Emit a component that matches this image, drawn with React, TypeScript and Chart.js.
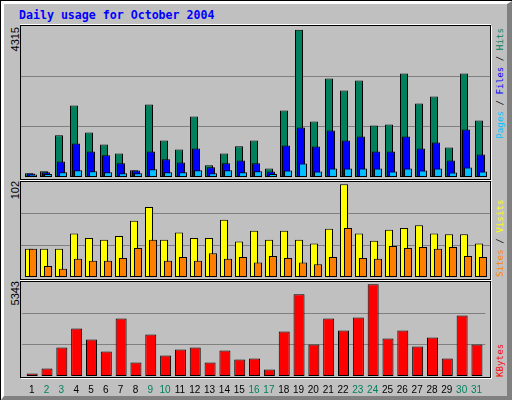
import { useEffect, useRef, type CSSProperties, type ReactNode } from "react"
import { Chart, type ChartConfiguration, registerables } from "chart.js"

Chart.register(...registerables)

const year = 2004
const monthIndex = 9
const monthName = "October"

const days = [1, 2, 3, 4, 5, 6, 7, 8, 9, 10, 11, 12, 13, 14, 15, 16, 17, 18, 19, 20, 21, 22, 23, 24, 25, 26, 27, 28, 29, 30, 31]
const hits = [110, 167, 1221, 2091, 1300, 949, 685, 196, 2121, 1066, 803, 1770, 343, 685, 899, 1066, 246, 1945, 4315, 1623, 2882, 2531, 2824, 1506, 1535, 3029, 2150, 2355, 861, 3029, 1652]
const files = [100, 138, 451, 978, 744, 636, 401, 187, 744, 518, 422, 832, 284, 401, 480, 401, 158, 920, 1447, 890, 1359, 1066, 1183, 744, 744, 1183, 832, 1008, 480, 1389, 656]
const pages = [75, 88, 138, 196, 167, 138, 108, 108, 226, 138, 138, 196, 108, 196, 138, 167, 88, 187, 392, 158, 246, 246, 246, 246, 158, 246, 187, 246, 129, 275, 158]
const visits = [31, 31, 31, 48, 43, 41, 45, 62, 77, 41, 49, 43, 43, 63, 39, 51, 41, 51, 41, 37, 53, 102, 48, 40, 52, 54, 57, 48, 47, 47, 37]
const sites = [31, 12, 9, 20, 18, 18, 21, 32, 41, 18, 22, 18, 26, 20, 22, 16, 23, 21, 16, 14, 22, 54, 21, 20, 34, 32, 33, 31, 33, 23, 22]
const kbytes = [140, 433, 1660, 2771, 2128, 1426, 3356, 783, 2420, 1193, 1543, 1660, 783, 1485, 959, 1017, 374, 2596, 4759, 1836, 3356, 2654, 3414, 5343, 2186, 2654, 1719, 2245, 1017, 3531, 1836]

const C = {
  hits: "#00805C",
  files: "#0000FF",
  pages: "#00C0FF",
  visits: "#FFFF00",
  sites: "#FF8000",
  kbytes: "#FF0000",
  grid: "#808080",
  bg: "#C0C0C0",
}

const PX_PER_DAY = 15
const HEADROOM = 1.025

const isWeekend = (d: number) => {
  const wd = new Date(year, monthIndex, d).getDay()
  return wd === 0 || wd === 6
}

interface BarSet {
  values: number[]
  color: string
  shift: number // px
  width: number // px
  order: number
}

function buildConfig(sets: BarSet[], showDays: boolean): ChartConfiguration {
  const top = Math.max(...sets.flatMap((s) => s.values)) * HEADROOM
  return {
    type: "bar",
    data: {
      datasets: sets.map((s) => ({
        data: s.values.map((v, i) => ({ x: days[i] + s.shift / PX_PER_DAY, y: v })),
        backgroundColor: s.color,
        borderColor: "#000000",
        borderWidth: 1,
        borderSkipped: false,
        barThickness: s.width,
        grouped: false,
        order: s.order,
        inflateAmount: 0,
      })),
    },
    options: {
      responsive: false,
      animation: false,
      devicePixelRatio: 1,
      events: [],
      layout: { padding: 0 },
      plugins: { legend: { display: false }, tooltip: { enabled: false } },
      scales: {
        x: {
          type: "linear",
          min: 1 / 3,
          max: 31.6,
          offset: false,
          display: showDays,
          grid: { display: false, drawTicks: false, offset: false },
          border: { display: false },
          afterBuildTicks: (s) => {
            s.ticks = days.map((d) => ({ value: d }))
          },
          afterFit: (s) => {
            s.height = showDays ? 22 : 0
          },
          ticks: {
            padding: 8,
            autoSkip: false,
            maxRotation: 0,
            font: { family: "Liberation Sans", size: 10 },
            color: (ctx) => (isWeekend(ctx.tick.value) ? C.hits : "#000000"),
            callback: (v) => String(v),
          },
        },
        y: {
          min: 0,
          max: top,
          grid: { color: C.grid, lineWidth: 1, drawTicks: false },
          border: { display: false },
          ticks: { display: false },
          afterBuildTicks: (s) => {
            s.ticks = [1 / 3, 2 / 3].map((f) => ({ value: top * f }))
          },
          afterFit: (s) => {
            s.width = 0
          },
        },
      },
    },
  }
}

function BarPanel({ build, left, top, width, height }: { build: () => ChartConfiguration; left: number; top: number; width: number; height: number }) {
  const ref = useRef<HTMLCanvasElement>(null)
  useEffect(() => {
    if (!ref.current) return
    const chart = new Chart(ref.current, build())
    return () => chart.destroy()
  }, [build])
  return <canvas ref={ref} width={width} height={height} style={{ position: "absolute", left, top }} />
}

function Up({ x, y, w, alignTop, style, children }: { x: number; y: number; w: number; alignTop?: boolean; style?: CSSProperties; children: ReactNode }) {
  return (
    <div
      style={{
        position: "absolute",
        left: x,
        top: y,
        width: w,
        transform: "rotate(-90deg)",
        transformOrigin: "0 0",
        whiteSpace: "nowrap",
        textAlign: alignTop ? "right" : "left",
        ...style,
      }}
    >
      {children}
    </div>
  )
}

const buildTop = () =>
  buildConfig(
    [
      { values: hits, color: C.hits, shift: -2, width: 8, order: 3 },
      { values: files, color: C.files, shift: 0, width: 8, order: 2 },
      { values: pages, color: C.pages, shift: 2, width: 8, order: 1 },
    ],
    false
  )
const buildMid = () =>
  buildConfig(
    [
      { values: visits, color: C.visits, shift: -2, width: 8, order: 2 },
      { values: sites, color: C.sites, shift: 2, width: 8, order: 1 },
    ],
    false
  )
const buildBottom = () => buildConfig([{ values: kbytes, color: C.kbytes, shift: 0.5, width: 11, order: 1 }], true)

const panelBox = (top: number, height: number): CSSProperties => ({
  position: "absolute",
  left: 20,
  top,
  width: 471,
  height,
  boxSizing: "border-box",
  border: "1px solid #000",
  boxShadow: "1px 1px 0 #fff, 0 -1px 0 #fff",
})

const leftLabel: CSSProperties = { fontFamily: "Liberation Sans", fontSize: 11, lineHeight: "11px", color: "#000" }
const rightLabel: CSSProperties = { fontFamily: "DejaVu Sans Mono", fontSize: 9.2, lineHeight: "10px" }

export default function App() {
  return (
    <div style={{ position: "fixed", left: 0, top: 0, width: 512, height: 400, background: C.bg, overflow: "hidden" }}>
      <div
        style={{
          position: "absolute",
          left: 0,
          top: 0,
          width: 512,
          height: 400,
          boxSizing: "border-box",
          borderTop: "1px solid #000",
          borderLeft: "1px solid #000",
        }}
      />
      <div
        style={{
          position: "absolute",
          left: 1,
          top: 1,
          width: 511,
          height: 399,
          boxSizing: "border-box",
          borderTop: "3px solid #fff",
          borderLeft: "3px solid #fff",
          borderRight: "5px solid #808080",
          borderBottom: "4px solid #808080",
        }}
      />
      <div
        style={{
          position: "absolute",
          left: 19,
          top: 9,
          fontFamily: "DejaVu Sans Mono",
          fontWeight: "bold",
          fontSize: 11.6,
          lineHeight: "12px",
          color: "#0000FF",
          whiteSpace: "nowrap",
        }}
      >
        Daily usage for {monthName} {year}
      </div>

      <div style={panelBox(25, 155)} />
      <div style={panelBox(181, 99)} />
      <div style={panelBox(281, 97)} />

      <BarPanel build={buildTop} left={21} top={26} width={469} height={151} />
      <BarPanel build={buildMid} left={21} top={182} width={469} height={95} />
      <BarPanel build={buildBottom} left={21} top={282} width={469} height={116} />

      <Up x={10} y={27 + 40} w={40} alignTop style={leftLabel}>
        {Math.max(...hits)}
      </Up>
      <Up x={10} y={181 + 40} w={40} alignTop style={leftLabel}>
        {Math.max(...visits)}
      </Up>
      <Up x={10} y={281 + 40} w={40} alignTop style={leftLabel}>
        {Math.max(...kbytes)}
      </Up>

      <Up x={495} y={28 + 150} w={150} alignTop style={rightLabel}>
        <span style={{ color: C.pages }}>Pages</span>
        <span style={{ color: "#000" }}> / </span>
        <span style={{ color: C.files }}>Files</span>
        <span style={{ color: "#000" }}> / </span>
        <span style={{ color: C.hits }}>Hits</span>
      </Up>
      <Up x={495} y={277} w={120} style={rightLabel}>
        <span style={{ color: C.sites }}>Sites</span>
        <span style={{ color: "#000" }}> / </span>
        <span style={{ color: C.visits }}>Visits</span>
      </Up>
      <Up x={495} y={377} w={60} style={rightLabel}>
        <span style={{ color: C.kbytes }}>KBytes</span>
      </Up>
    </div>
  )
}
